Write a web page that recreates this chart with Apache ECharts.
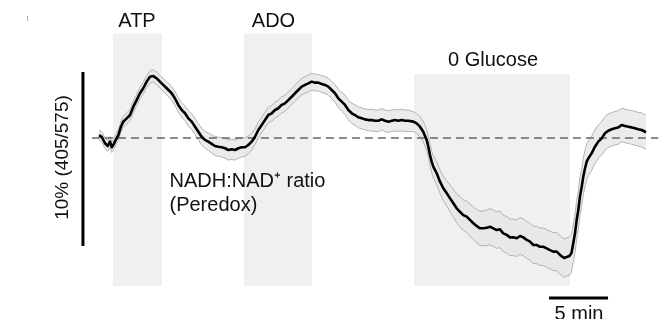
<!DOCTYPE html>
<html>
<head>
<meta charset="utf-8">
<script src="https://cdn.jsdelivr.net/npm/echarts@6/dist/echarts.min.js"></script>
<style>html,body{margin:0;padding:0;background:#fff}#c{width:672px;height:319px}</style>
</head>
<body>
<div id="c"></div>
<script>
// time in minutes from start of trace
var minutes = [
  0, 0.23, 0.51, 0.74, 0.93, 1.08, 1.21, 1.42, 1.64, 1.86, 2.06, 2.35, 2.63, 2.91, 3.19, 3.47, 3.75, 4.04, 4.32, 4.60, 4.89, 5.31, 5.74, 6.16, 6.44,
  6.72, 7.01, 7.29, 7.57, 7.86, 8.14, 8.42, 8.70, 8.98, 9.26, 9.55, 9.83, 10.11, 10.40, 10.68, 10.96, 11.25, 11.53, 11.81, 12.09, 12.37, 12.65, 12.94, 13.22,
  13.50, 13.79, 14.07, 14.35, 14.64, 14.92, 15.19, 15.48, 15.76, 16.04, 16.33, 16.61, 16.89, 17.18, 17.46, 17.74, 18.03, 18.31, 18.58, 18.87, 19.15, 19.43, 19.72, 20.00,
  20.28, 20.57, 20.85, 21.13, 21.42, 21.69, 21.97, 22.26, 22.54, 22.82, 23.11, 23.39, 23.67, 23.96, 24.24, 24.52, 24.81, 25.08, 25.36, 25.65, 25.93, 26.21,
  26.36, 26.64, 26.92, 27.20, 27.48, 27.77, 27.91, 28.05, 28.19, 28.33, 28.62, 28.90, 29.18, 29.47, 29.75, 30.03, 30.31, 30.59, 30.87, 31.16, 31.44, 31.72, 32.01, 32.29, 32.57, 32.86, 33.14,
  33.42, 33.70, 33.98, 34.26, 34.55, 34.83, 35.11, 35.40, 35.68, 35.96, 36.25, 36.53, 36.81, 37.09, 37.37, 37.65, 37.94, 38.22, 38.50, 38.79, 39.07, 39.41, 39.64, 39.87,
  40.04, 40.19, 40.34, 40.48, 40.62, 40.76, 40.91, 41.04, 41.19, 41.33, 41.47, 41.75, 42.03, 42.31, 42.60, 42.88, 43.16, 43.45, 43.73, 44.01, 44.30, 44.58, 44.86, 45.14, 45.42, 45.70, 45.99, 46.36
];
// mean NADH:NAD+ (Peredox) change, % of 405/575 ratio
var ratio = [
  0.17, 0.07, -0.30, -0.46, -0.21, -0.53, -0.40, -0.11, 0.17, 0.65, 0.94, 1.13, 1.32, 1.80, 2.18, 2.57, 2.86, 3.24, 3.52, 3.56, 3.43, 3.14, 2.86, 2.57, 2.27,
  1.90, 1.61, 1.42, 1.13, 0.94, 0.65, 0.36, 0.07, -0.11, -0.21, -0.34, -0.46, -0.50, -0.53, -0.59, -0.69, -0.65, -0.69, -0.59, -0.53, -0.53, -0.40, -0.21, 0.07,
  0.46, 0.75, 1.03, 1.32, 1.42, 1.61, 1.71, 1.90, 1.99, 2.18, 2.37, 2.57, 2.76, 2.95, 3.05, 3.14, 3.24, 3.18, 3.18, 3.10, 3.05, 2.95, 2.76, 2.57,
  2.28, 2.09, 1.90, 1.61, 1.42, 1.32, 1.19, 1.13, 1.07, 1.03, 1.03, 0.99, 0.99, 1.07, 0.99, 0.94, 0.99, 1.03, 0.99, 1.03, 0.99, 0.99,
  1.03, 0.94, 0.84, 0.65, 0.36, -0.11, -0.50, -0.98, -1.36, -1.65, -2.03, -2.51, -2.89, -3.18, -3.47, -3.75, -4.04, -4.24, -4.43, -4.52, -4.71, -4.90, -5.06, -5.19, -5.19, -5.16, -5.10,
  -5.19, -5.29, -5.25, -5.48, -5.57, -5.71, -5.71, -5.76, -5.63, -5.71, -5.86, -5.96, -6.15, -6.15, -6.25, -6.25, -6.34, -6.44, -6.53, -6.53, -6.72, -6.90, -6.84, -6.78,
  -6.61, -6.05, -5.48, -4.71, -4.14, -3.37, -2.80, -2.22, -1.74, -1.36, -1.17, -0.88, -0.50, -0.21, -0.02, 0.27, 0.42, 0.50, 0.56, 0.61, 0.75, 0.69, 0.65, 0.61, 0.56, 0.50, 0.46, 0.33
];
// standard error of the mean, same units
var sem = [
  0.29, 0.29, 0.3, 0.3, 0.3, 0.3, 0.3, 0.3, 0.3, 0.31, 0.31, 0.32, 0.32, 0.33, 0.33, 0.33, 0.34, 0.34, 0.35, 0.35, 0.36, 0.37, 0.38, 0.39, 0.4,
  0.41, 0.42, 0.43, 0.44, 0.45, 0.46, 0.47, 0.48, 0.49, 0.5, 0.52, 0.54, 0.55, 0.56, 0.57, 0.58, 0.58, 0.58, 0.57, 0.55, 0.53, 0.51, 0.48, 0.45,
  0.44, 0.44, 0.45, 0.45, 0.45, 0.46, 0.46, 0.46, 0.46, 0.46, 0.46, 0.47, 0.47, 0.47, 0.47, 0.48, 0.48, 0.48, 0.48, 0.48, 0.49, 0.49, 0.5, 0.5,
  0.52, 0.54, 0.56, 0.57, 0.58, 0.59, 0.6, 0.6, 0.61, 0.61, 0.62, 0.62, 0.62, 0.62, 0.62, 0.62, 0.62, 0.62, 0.62, 0.62, 0.62, 0.62,
  0.57, 0.57, 0.58, 0.58, 0.59, 0.6, 0.6, 0.61, 0.62, 0.63, 0.65, 0.67, 0.7, 0.73, 0.77, 0.8, 0.83, 0.86, 0.88, 0.9, 0.92, 0.94, 0.96, 0.98, 1.0, 1.02, 1.04,
  1.05, 1.05, 1.05, 1.05, 1.05, 1.05, 1.05, 1.05, 1.06, 1.06, 1.06, 1.06, 1.07, 1.07, 1.07, 1.08, 1.08, 1.08, 1.09, 1.09, 1.1, 1.1, 1.1, 1.1,
  1.1, 1.1, 1.1, 1.1, 1.1, 1.1, 1.08, 1.06, 1.04, 1.02, 1.0, 0.98, 0.97, 0.96, 0.96, 0.96, 0.96, 0.96, 0.96, 0.96, 0.96, 0.96, 0.96, 0.97, 0.97, 0.97, 0.98, 0.98
];
// application periods
var periodNames = ['ATP', 'ADO', '0 Glucose'];
var periodStart = [1.19, 12.29, 26.69];
var periodEnd = [5.34, 18.05, 39.92];
var periodTop = [6, 6, 3.68];
var periodFloor = -8.5;
// scale bars
var yBarMin = -1.36, yBarFrom = 3.8, yBarSpan = 10;   // 10 %
var xBarLevel = -9.2, xBarFrom = 38.14, xBarSpan = 5; // 5 min
var baselineFrom = -0.6, baselineTo = 47.4;

if (minutes.length !== ratio.length || ratio.length !== sem.length) {
  console.error('length mismatch', minutes.length, ratio.length, sem.length);
}

var upperData = minutes.map(function (t, i) { return [t, +(ratio[i] + sem[i]).toFixed(3)]; });
var lowerData = minutes.map(function (t, i) { return [t, +(ratio[i] - sem[i]).toFixed(3)]; });
var meanData = minutes.map(function (t, i) { return [t, ratio[i]]; });

var FONT = '"Liberation Sans", Arial, Helvetica, sans-serif';
var chart = echarts.init(document.getElementById('c'), null, { renderer: 'canvas' });

var areas = periodNames.map(function (n, i) {
  return [{ xAxis: periodStart[i], yAxis: periodTop[i] }, { xAxis: periodEnd[i], yAxis: periodFloor }];
});

function renderBand(params, api) {
  if (params.dataIndex !== 0) return null;
  var pts = [];
  for (var i = 0; i < upperData.length; i++) pts.push(api.coord(upperData[i]));
  for (var j = lowerData.length - 1; j >= 0; j--) pts.push(api.coord(lowerData[j]));
  return { type: 'polygon', shape: { points: pts }, style: { fill: '#e6e6e6', opacity: 0.8 }, silent: true };
}

function txt(x, y, s, align, size, extra) {
  var o = { type: 'text', x: x, y: y, z: 100, style: { text: s, font: (size || 20) + 'px ' + FONT, fill: '#111', align: align || 'center', verticalAlign: 'middle' } };
  if (extra) for (var k in extra) o[k] = extra[k];
  return o;
}

chart.setOption({
  animation: false,
  backgroundColor: '#fff',
  grid: { left: 75.4, width: 584.1, top: 33.6, height: 278.4, containLabel: false },
  xAxis: { type: 'value', min: -2, max: 47.5, show: false },
  yAxis: { type: 'value', min: -10, max: 6, show: false },
  series: [
    {
      type: 'line', data: [], z: 1, silent: true,
      markArea: { silent: true, itemStyle: { color: '#f0f0f0' }, label: { show: false }, data: areas }
    },
    {
      name: 'band', type: 'custom', data: [[0, 0]], z: 2, silent: true, clip: false,
      renderItem: renderBand
    },
    {
      name: 'upper', type: 'line', data: upperData, symbol: 'none', z: 3, silent: true,
      lineStyle: { color: '#b3b3b3', width: 1 }
    },
    {
      name: 'lower', type: 'line', data: lowerData, symbol: 'none', z: 3, silent: true,
      lineStyle: { color: '#b3b3b3', width: 1 }
    },
    {
      name: 'baseline', type: 'line', data: [[baselineFrom, 0], [baselineTo, 0]],
      symbol: 'none', z: 4, silent: true,
      lineStyle: { color: '#666', width: 1.5, type: [8, 5] }
    },
    {
      name: 'mean', type: 'line', data: meanData, symbol: 'none', z: 5, silent: true,
      lineStyle: { color: '#000', width: 2.6, join: 'round' }
    },
    {
      name: 'ybar', type: 'line', data: [[yBarMin, yBarFrom], [yBarMin, yBarFrom - yBarSpan]],
      symbol: 'none', z: 5, silent: true, lineStyle: { color: '#000', width: 3, cap: 'butt' }
    },
    {
      name: 'xbar', type: 'line', data: [[xBarFrom, xBarLevel], [xBarFrom + xBarSpan, xBarLevel]],
      symbol: 'none', z: 5, silent: true, lineStyle: { color: '#000', width: 3, cap: 'butt' }
    }
  ],
  graphic: [
    txt(137, 21.5, periodNames[0]),
    txt(273.5, 21.5, periodNames[1]),
    txt(493, 60.5, periodNames[2]),
    txt(169.5, 181, 'NADH:NAD\u207A ratio', 'left'),
    txt(169.5, 205, '(Peredox)', 'left'),
    txt(63, 157.5, '10% (405/575)', 'center', 19, { rotation: Math.PI / 2 }),
    txt(579, 314, '5 min'),
    { type: 'line', z: 100, shape: { x1: 27.5, y1: 16, x2: 27.5, y2: 21 }, style: { stroke: '#aaa', lineWidth: 1 } }
  ]
});
</script>
</body>
</html>
